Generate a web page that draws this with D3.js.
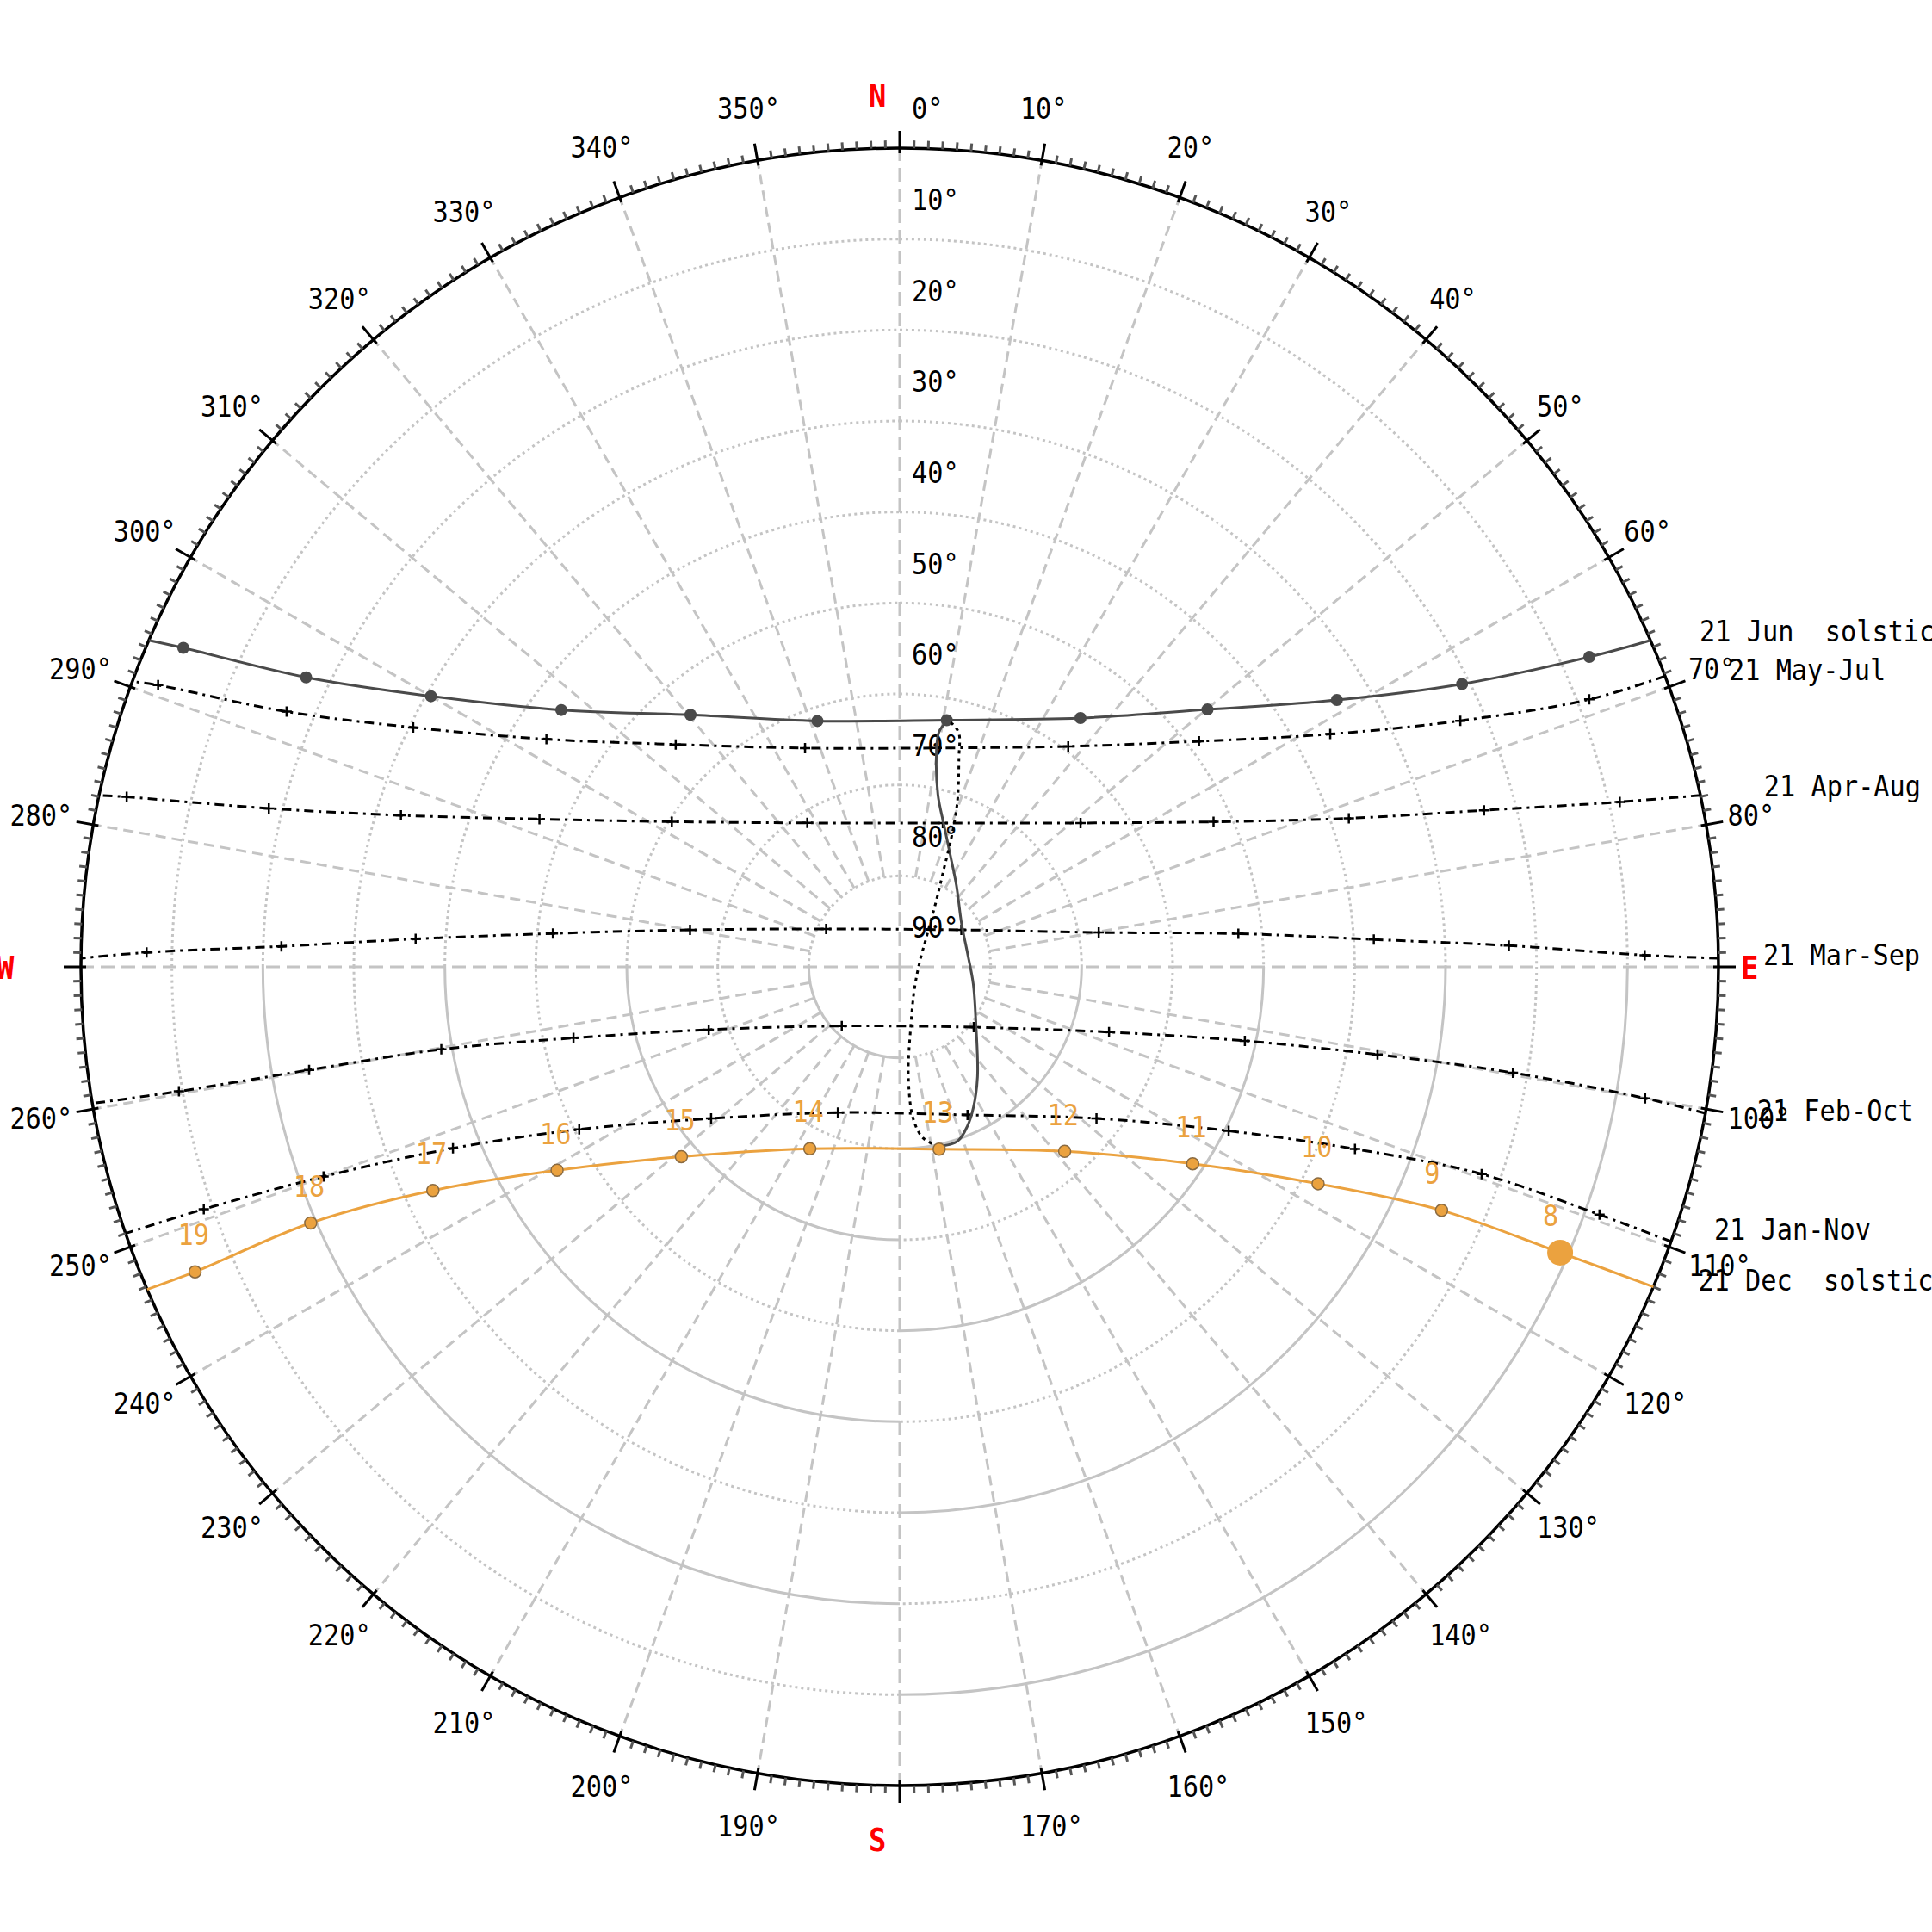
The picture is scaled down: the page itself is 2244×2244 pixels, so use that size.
<!DOCTYPE html>
<html><head><meta charset="utf-8">
<script src="https://cdn.jsdelivr.net/npm/d3@7"></script>
<style>body{margin:0;background:#fff}svg{display:block}text{white-space:pre}</style>
</head><body>
<svg id="chart" width="2244" height="2244"></svg>
<script>
// ---------------- DATA ----------------
const elevationTicks = [0,10,20,30,40,50,60,70,80,90];
const azimuthTicks = d3.range(0,360,10);
const compassLabels = ["N","E","S","W"];
const compassAz = [0,90,180,270];
const hours = [8,9,10,11,12,13,14,15,16,17,18,19];

// 21 Jun solstice (azimuth deg, elevation deg) per hour
const junAz = [65.8,63.3,58.6,50.1,36.0,10.8,341.5,320.3,307.2,300.0,296.0,294.0];
const junEl = [6.9,20.8,33.7,45.9,56.2,62.4,61.5,54.0,43.3,30.5,17.4,3.8];
const junRiseSet = [66.5,293.5];

const mayAz = [68.8,66.3,61.6,53.0,37.4,9.6,336.6,314.8,302.8,296.2,292.6,290.8];
const mayEl = [8.7,22.7,36.2,48.8,59.5,65.6,63.8,55.3,43.8,30.4,17.0,2.8];
const mayRiseSet = [69.2,290.4];

const aprAz = [77.1,75.0,71.7,65.2,51.5,16.7,327.3,302.5,292.3,286.9,284.1,282.4];
const aprEl = [8.8,23.5,38.0,52.0,64.6,73.5,71.2,60.3,47.2,32.7,18.5,3.0];
const aprRiseSet = [77.9,282.1];

const marAz = [89.1,88.0,86.7,84.4,80.2,59.0,297.3,280.0,275.5,273.3,271.9,271.1];
const marEl = [8.1,23.0,37.8,52.6,67.8,82.1,80.9,66.6,51.7,36.7,22.0,7.2];
const marRiseSet = [89.4,270.6];

const febAz = [100.0,99.8,100.4,102.1,107.3,129.2,224.4,251.8,257.7,259.8,260.1,260.2];
const febEl = [6.8,21.6,36.6,51.2,65.9,79.5,80.9,67.9,53.3,38.8,24.1,9.6];
const febRiseSet = [100.3,260.4];

const janAz = [109.5,109.6,111.8,116.5,127.6,155.4,203.0,231.2,243.1,247.9,250.0,250.8];
const janEl = [8.4,22.1,36.1,49.6,62.7,72.1,72.6,63.4,50.5,37.0,22.6,9.0];
const janRiseSet = [109.6,251.0];

// 21 Dec solstice (today's path, orange)
const decAz = [113.4,114.2,117.4,123.9,138.2,167.8,206.3,229.0,239.3,244.4,246.5,246.6];
const decEl = [10.9,24.7,38.2,51.2,62.8,69.5,67.7,58.2,46.2,33.1,19.4,5.6];
const decRiseSet = [113.0,246.8];
const currentHour = 8;

// analemma at 13h : Jul->Dec (solid) and Jan->Jun (dotted)
const anaSolidAz = [11.0,9.5,9.7,12.5,17.2,24.3,34.9,55.0,78.7,103.1,128.3,144.7,152.2,156.9,161.7,167.6];
const anaSolidEl = [62.4,63.8,66.0,70.6,73.6,76.5,79.1,81.7,82.4,81.7,79.3,75.2,72.6,71.0,69.8,69.8];
const anaDotAz = [167.6,172.2,174.9,175.5,169.6,147.7,79.4,41.3,28.6,24.2,21.8,19.2,15.8,14.2,12.3,11.0];
const anaDotEl = [69.8,71.0,73.2,77.9,83.3,87.0,87.8,85.5,81.5,78.1,74.7,70.7,66.1,63.5,62.7,62.4];

const dateNames = ["21 Jun  solstice","21 May-Jul","21 Apr-Aug","21 Mar-Sep","21 Feb-Oct","21 Jan-Nov","21 Dec  solstice"];

// ---------------- STYLE / LAYOUT ----------------
// label nudges (px) relative to each path's sunrise point
const labelDx = [57, 74, 74, 52, 60, 50, 52];
const labelDy = [-11, -8, -11, -4, -3, -14, -8];

const svg = d3.select("#chart");
const cx = 1045, cy = 1123, R = 951;
const rScale = d3.scaleLinear().domain([90,0]).range([0,R]);
const aScale = d3.scaleLinear().domain([0,360]).range([0,2*Math.PI]);
const GRID = "#c4c4c4";
const ORANGE = "#eba23f";
const FONT = "DejaVu Sans Mono, Liberation Mono, monospace";

function proj(az, el){
  const rr = rScale(el), a = aScale(az);
  return [cx + rr*Math.sin(a), cy - rr*Math.cos(a)];
}
function polar(az, rr){
  const a = aScale(az);
  return [cx + rr*Math.sin(a), cy - rr*Math.cos(a)];
}
function addText(x, y, str, fill, size, bold){
  return g.append("text")
    .attr("transform", `translate(${x},${y}) scale(0.89,1)`)
    .attr("dy","0.36em")
    .attr("xml:space","preserve")
    .attr("font-family",FONT).attr("font-size",size || 34)
    .attr("font-weight", bold ? "bold" : "normal")
    .attr("fill", fill || "#000").text(str);
}

svg.append("rect").attr("width",2244).attr("height",2244).attr("fill","#fff");
const g = svg.append("g");

// elevation circles by quadrant
const quadrants = [[0,90],[90,180],[180,270],[270,360]];
elevationTicks.filter(e => e>0 && e<90).forEach(e => {
  const rr = rScale(e);
  quadrants.forEach((q,qi) => {
    let solid = false;
    if (qi === 1) solid = (e/10)%2 === 1;   // SE
    if (qi === 2) solid = (e/10)%2 === 0;   // SW
    const p = d3.path();
    p.arc(cx, cy, rr, aScale(q[0]) - Math.PI/2, aScale(q[1]) - Math.PI/2);
    g.append("path").attr("d", p.toString()).attr("fill","none")
      .attr("stroke", GRID).attr("stroke-width", 3)
      .attr("stroke-dasharray", solid ? null : "3,4");
  });
});

// radial azimuth lines
azimuthTicks.forEach(az => {
  const cardinal = az % 90 === 0;
  const p0 = polar(az, cardinal ? 0 : rScale(80));
  const p1 = polar(az, R);
  g.append("line").attr("x1",p0[0]).attr("y1",p0[1]).attr("x2",p1[0]).attr("y2",p1[1])
    .attr("stroke", GRID).attr("stroke-width", 3)
    .attr("stroke-dasharray", cardinal ? "16,8" : "12,7");
});

// outer horizon circle
g.append("circle").attr("cx",cx).attr("cy",cy).attr("r",R)
  .attr("fill","none").attr("stroke","#000").attr("stroke-width",3.5);

// minor ticks every degree, major every 10
d3.range(0,360,1).forEach(az => {
  if (az % 10 === 0) {
    const p0 = polar(az, R-6), p1 = polar(az, R+20);
    g.append("line").attr("x1",p0[0]).attr("y1",p0[1]).attr("x2",p1[0]).attr("y2",p1[1])
      .attr("stroke","#000").attr("stroke-width",3);
  } else {
    const p0 = polar(az, R), p1 = polar(az, R+9);
    g.append("line").attr("x1",p0[0]).attr("y1",p0[1]).attr("x2",p1[0]).attr("y2",p1[1])
      .attr("stroke","#555").attr("stroke-width",3);
  }
});

// azimuth labels
const Lr = 1013;
azimuthTicks.filter(a => a % 90 !== 0).forEach(az => {
  const p = polar(az, Lr);
  addText(p[0]-36, p[1], az + "°");
});
// compass labels
compassLabels.forEach((t,i) => {
  const p = polar(compassAz[i], Lr);
  addText(p[0]-36, p[1], t, "#ff0000", 38, true);
});
// elevation labels along north axis
elevationTicks.forEach(e => {
  addText(cx+14, cy - rScale(e) - 46, e + "°");
});

// ---------------- PATHS ----------------
const lineGen = d3.line().x(d => d[0]).y(d => d[1]).curve(d3.curveCatmullRom.alpha(0.5));

function buildPath(azs, els, riseSet){
  const pts = [[riseSet[0],0]];
  azs.forEach((a,i) => pts.push([a, els[i]]));
  pts.push([riseSet[1],0]);
  return pts;
}

const dashed = [
  {az:mayAz, el:mayEl, rs:mayRiseSet, k:1},
  {az:aprAz, el:aprEl, rs:aprRiseSet, k:2},
  {az:marAz, el:marEl, rs:marRiseSet, k:3},
  {az:febAz, el:febEl, rs:febRiseSet, k:4},
  {az:janAz, el:janEl, rs:janRiseSet, k:5}
];

function dateLabel(k, rs){
  const p = proj(rs[0], 0);
  addText(p[0]+labelDx[k], p[1]+labelDy[k], dateNames[k]);
}

dashed.forEach(d => {
  const pts = buildPath(d.az, d.el, d.rs).map(q => proj(q[0], q[1]));
  g.append("path").attr("d", lineGen(pts)).attr("fill","none")
    .attr("stroke","#000").attr("stroke-width",3).attr("stroke-dasharray","11,6,3,6");
  d.az.forEach((a,i) => {
    const p = proj(a, d.el[i]);
    g.append("path").attr("d", `M${p[0]-6},${p[1]}h12M${p[0]},${p[1]-6}v12`)
      .attr("stroke","#000").attr("stroke-width",2.5);
  });
  dateLabel(d.k, d.rs);
});

// June solstice
{
  const pts = buildPath(junAz, junEl, junRiseSet).map(q => proj(q[0], q[1]));
  g.append("path").attr("d", lineGen(pts)).attr("fill","none")
    .attr("stroke","#4a4a4a").attr("stroke-width",3);
  junAz.forEach((a,i) => {
    const p = proj(a, junEl[i]);
    g.append("circle").attr("cx",p[0]).attr("cy",p[1]).attr("r",7).attr("fill","#4a4a4a");
  });
  dateLabel(0, junRiseSet);
}

// analemma
{
  const s = anaSolidAz.map((a,i) => proj(a, anaSolidEl[i]));
  g.append("path").attr("d", lineGen(s)).attr("fill","none")
    .attr("stroke","#4a4a4a").attr("stroke-width",3);
  const d = anaDotAz.map((a,i) => proj(a, anaDotEl[i]));
  g.append("path").attr("d", lineGen(d)).attr("fill","none")
    .attr("stroke","#000").attr("stroke-width",3).attr("stroke-dasharray","4,5");
}

// December solstice (orange, today)
{
  const pts = buildPath(decAz, decEl, decRiseSet).map(q => proj(q[0], q[1]));
  g.append("path").attr("d", lineGen(pts)).attr("fill","none")
    .attr("stroke",ORANGE).attr("stroke-width",3);
  decAz.forEach((a,i) => {
    const p = proj(a, decEl[i]);
    g.append("circle").attr("cx",p[0]).attr("cy",p[1]).attr("r",7)
      .attr("fill",ORANGE).attr("stroke","#8a6a40").attr("stroke-width",1.5);
    addText(p[0]-20, p[1]-43, String(hours[i]), ORANGE);
    if (hours[i] === currentHour) {
      g.append("circle").attr("cx",p[0]).attr("cy",p[1]).attr("r",15).attr("fill",ORANGE);
    }
  });
  dateLabel(6, decRiseSet);
}
</script>
</body></html>
